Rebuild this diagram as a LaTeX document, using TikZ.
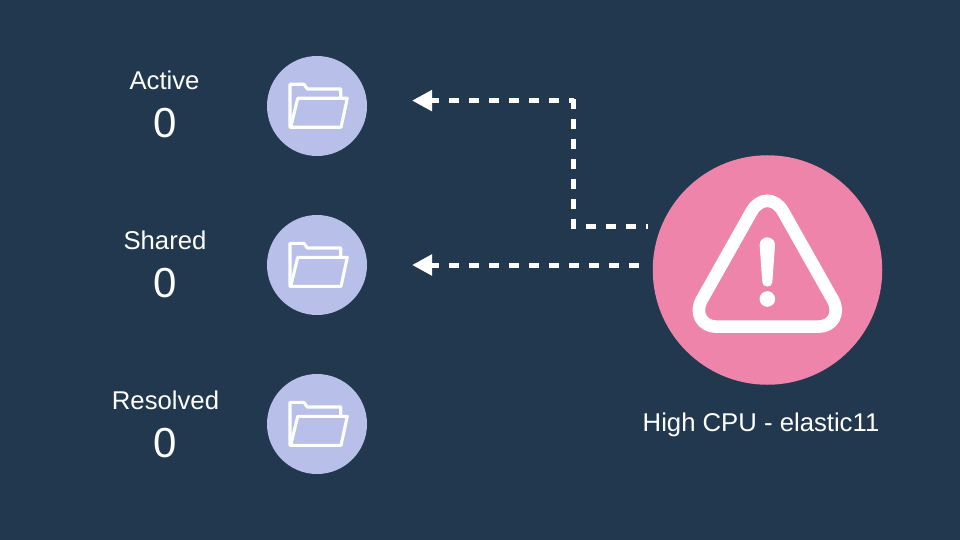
\documentclass[tikz,border=0pt]{standalone}
\usepackage{fontspec}
\setmainfont{Liberation Sans}
\usetikzlibrary{arrows.meta}
\definecolor{bgc}{HTML}{22384E}
\definecolor{lav}{HTML}{B8C0E9}
\definecolor{pinkc}{HTML}{EF84AB}
\tikzset{
  x=1pt,y=-1pt,
  foldercircle/.style={circle,fill=lav,draw=none,minimum size=100pt,inner sep=0pt},
  alertcircle/.style={circle,fill=pinkc,draw=none,minimum size=229.5pt,inner sep=0pt},
  lab/.style={text=white,anchor=base,inner sep=0pt,font=\fontsize{25.7pt}{30pt}\selectfont},
  num/.style={text=white,anchor=base,inner sep=0pt,font=\fontsize{42pt}{48pt}\selectfont},
  conn/.style={draw=white,line width=5pt,dash pattern=on 10pt off 10pt},
  tipped/.style={-{Triangle[length=20pt,width=20pt,fill=white]}},
  folderline/.style={draw=white,line width=3.1pt,line join=round,line cap=round},
  folder/.pic={
    \draw[folderline] (-26.3,21.3) -- (-27,21.3) -- (-27,-21.7) -- (-13,-21.7) -- (-9.7,-17) -- (23.7,-17) -- (23.7,-8.3);
    \draw[folderline] (-26.3,21.3) -- (24,21.3) -- (30.3,-7.7) -- (-19.3,-7.7) -- cycle;
  }
}
\begin{document}
\begin{tikzpicture}
\useasboundingbox (0,0) rectangle (960,540);
\fill[bgc] (0,0) rectangle (960,540);
% folder circles
\node[foldercircle] (fa) at (317,106) {};
\node[foldercircle] (fb) at (317,265) {};
\node[foldercircle] (fc) at (317,424) {};
\pic at (fa.center) {folder};
\pic at (fb.center) {folder};
\pic at (fc.center) {folder};
% labels
\node[lab] (la) at (164.5,90) {Active};
\node[num] (na) at (165,138) {0};
\node[lab] (lb) at (165,249) {Shared};
\node[num] (nb) at (165,297) {0};
\node[lab] (lc) at (165.5,409) {Resolved};
\node[num] (nc) at (165,457) {0};
% alert
\node[alertcircle] (alert) at (767.5,270) {};
\node[lab] (alertlabel) at (761,431) {High CPU - elastic11};
\begin{scope}[shift={(640,150)},x=0.3333pt,y=-0.3333pt]
  \draw[white,line width=12.6pt,line join=round]
    (535,530) .. controls (578,530) and (601,490) .. (579,450)
    -- (429,184) .. controls (405,142) and (359,142) .. (335,184)
    -- (185,450) .. controls (163,490) and (186,530) .. (229,530) -- cycle;
  \fill[white] (359,285) .. controls (359,272) and (369,262) .. (382,262)
    .. controls (395,262) and (405,272) .. (405,285)
    -- (397,397) .. controls (396,414) and (368,414) .. (367,397) -- cycle;
  \fill[white] (382,447) circle[radius=7.8pt];
\end{scope}
% connectors
\coordinate (tailb) at (639,265);
\coordinate (tipb) at (412,265);
\draw[conn,tipped] (tailb) -- (tipb);
\coordinate (taila) at (648,226.8);
\coordinate (elbowa) at (586,226.8);
\coordinate (vbot) at (573.8,229.2);
\coordinate (vtop) at (573.8,98.1);
\coordinate (cornera) at (573.8,100.6);
\coordinate (tipa) at (412,100.6);
\draw[conn,dash phase=8pt] (taila) -- (elbowa);
\draw[conn] (vbot) -- (vtop);
\draw[conn,tipped,dash phase=5pt] (cornera) -- (tipa);
\end{tikzpicture}
\end{document}
